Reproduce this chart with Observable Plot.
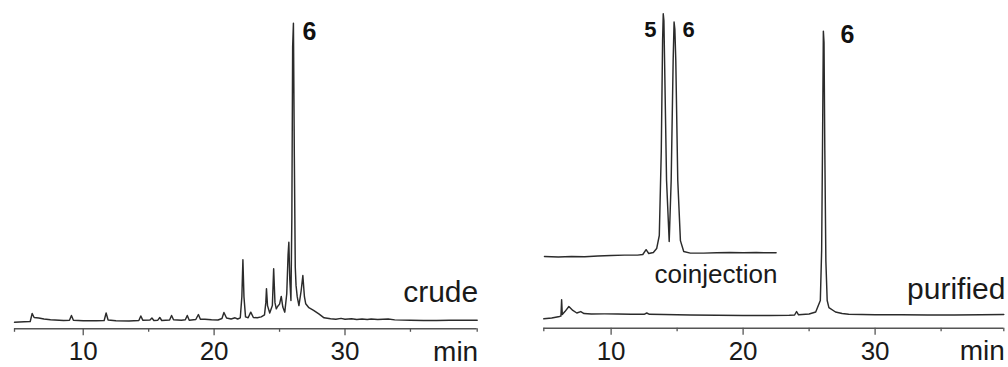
<!DOCTYPE html>
<html><head><meta charset="utf-8">
<script src="https://cdn.jsdelivr.net/npm/d3@7"></script>
<script src="https://cdn.jsdelivr.net/npm/@observablehq/plot@0.6"></script>
<style>
body{margin:0;background:#fff;}
#wrap{display:flex;width:1008px;height:367px;overflow:hidden;}
#wrap svg{overflow:visible;display:block;}
</style></head><body><div id="wrap"></div>
<script>
// ---- data (retention time in min, detector signal in % of main peak) ----
const crudeTime = [4.75,5.5,5.95,6.1,6.25,6.6,7.0,7.5,8.5,8.95,9.1,9.25,10.0,11.0,11.6,11.75,11.9,12.5,13.5,14.25,14.4,14.55,15.1,15.25,15.4,15.7,15.85,16.0,16.6,16.75,16.9,17.5,17.8,17.95,18.1,18.6,18.8,18.95,19.3,19.8,20.3,20.6,20.75,20.95,21.3,21.6,21.8,22.0,22.12,22.2,22.28,22.4,22.6,22.8,23.0,23.3,23.6,23.85,23.95,24.0,24.08,24.25,24.45,24.55,24.65,24.75,24.85,25.0,25.13,25.25,25.4,25.55,25.65,25.71,25.78,25.87,25.94,26.0,26.06,26.13,26.2,26.26,26.35,26.48,26.65,26.78,26.9,27.0,27.24,27.6,28.0,28.4,28.9,29.3,29.7,30.0,30.5,30.9,31.3,31.7,32.0,32.5,33.3,33.8,35,36,37,38,39,40.1];
const crudeSignal = [-0.57,-0.44,-0.34,2.35,1.0,0.84,0.5,0.24,0.0,0.07,1.68,0.07,-0.1,-0.1,0.0,2.5,0.17,-0.1,-0.17,0.0,1.5,0.1,0.17,0.84,0.0,0.1,1.0,0.0,0.17,1.68,0.24,0.07,0.24,1.68,0.1,0.34,2.0,0.4,0.44,0.24,0.17,0.67,2.7,0.84,0.5,0.9,0.5,0.9,8,20.4,8,1.2,0.9,2.8,1.0,0.9,1.2,1.9,6,10.7,5,2.5,5,17.4,6,3.9,4.7,5.5,8.1,4.5,2.8,9,22,26.3,14,6.7,35,92,100,55,18,11.8,8,5.0,10,15.1,8,5.6,4.3,3.4,2.2,0.9,0.57,0.4,0.7,0.4,0.6,0.3,0.5,0.3,0.5,0.3,0.5,0.2,0.1,0.0,0.0,0.07,0.1,0.1];

const purifiedTime = [4.9,5.5,6.1,6.2,6.25,6.3,6.5,6.8,7.1,7.4,7.7,7.95,8.5,9.5,10.5,11.5,12.5,12.7,12.9,14,16,18,20,22,23.5,23.9,24.05,24.2,25,25.5,25.85,25.95,26.02,26.08,26.13,26.19,26.27,26.37,26.5,27,27.5,28,29,30,32,34,36,38,39.75];
const purifiedSignal = [-1.34,-1.06,-0.5,-0.35,5.36,0.18,1.2,3.0,1.6,0.7,1.2,0.5,0.35,0.4,0.35,0.25,0.25,0.7,0.25,0.18,0,-0.1,-0.2,-0.2,-0.1,0,1.23,0.07,0.35,1.06,5.1,22.7,62,100,96,58,19,5.1,2.6,1.06,0.53,0.25,0.18,0.07,0.07,0,0,0.07,0.18];

const coinjTime = [4.95,6,7,8,9,10,11,12,12.4,12.65,12.85,13.2,13.45,13.65,13.8,13.9,13.95,14.0,14.05,14.2,14.4,14.55,14.7,14.77,14.83,14.9,15.05,15.25,15.5,16,17,18,19,20,21,22,22.5];
const coinjSignal = [0,-0.2,0,-0.1,0.2,0.35,0.5,0.5,0.7,2.4,1.06,1.4,2.8,7.4,37,76,85.5,83,69,26.8,5.3,26.8,69,82.6,80,69,26.8,5.6,1.76,1.2,1.2,1.3,1.4,1.3,1.4,1.3,1.3];
const coinjOffset = 20.6;

const majorTicks = [10, 20, 30];
const minorTicks = [15, 25, 35];

const font = "'Liberation Sans', Arial, sans-serif";
const ink = "#2b2b2b";
const axisInk = "#555";

const toRows = (ts, vs) => ts.map((t, i) => ({t, s: vs[i]}));

function panel({width, ml, mr, mt, mb, xd, yd, traces, texts}) {
  return Plot.plot({
    width, height: 367,
    marginLeft: ml, marginRight: mr, marginTop: mt, marginBottom: mb,
    x: {domain: xd},
    y: {domain: yd, axis: null},
    style: {fontFamily: font, background: "white", overflow: "visible"},
    marks: [
      Plot.ruleY([yd[0]], {stroke: axisInk, strokeWidth: 1.4}),
      Plot.axisX({ticks: majorTicks, tickSize: 7, tickPadding: 6, fontSize: 26, stroke: axisInk, strokeWidth: 1.3, fill: "#1a1a1a", label: null, tickFormat: d => String(d)}),
      Plot.axisX({ticks: [xd[0], ...minorTicks, xd[1]], tickSize: 3.5, stroke: axisInk, strokeWidth: 1.3, tickFormat: () => "", label: null}),
      ...traces.map(tr => Plot.line(tr.rows, {x: "t", y: d => d.s + (tr.offset || 0), stroke: ink, strokeWidth: 1.45})),
      ...texts,
      Plot.text(["min"], {frameAnchor: "bottom-right", lineAnchor: "bottom", textAnchor: "end", dx: 1, dy: 32, fontSize: 28, fill: "#1a1a1a"})
    ]
  });
}

const left = panel({
  width: 520, ml: 14, mr: 43.3, mt: 22.7, mb: 38.7,
  xd: [4.75, 40.1], yd: [-2.8, 100],
  traces: [{rows: toRows(crudeTime, crudeSignal)}],
  texts: [
    Plot.text(["6"], {x: 26.76, y: 94.5, textAnchor: "start", lineAnchor: "bottom", fontSize: 25, fontWeight: "bold", fill: "#111"}),
    Plot.text(["crude"], {x: 40.1, y: 6.2, textAnchor: "end", lineAnchor: "bottom", dx: 1, fontSize: 30, fill: "#1a1a1a"})
  ]
});

const right = panel({
  width: 488, ml: 23.3, mr: 4.7, mt: 13.3, mb: 39.3,
  xd: [4.9, 39.75], yd: [-4.65, 106.1],
  traces: [
    {rows: toRows(purifiedTime, purifiedSignal)},
    {rows: toRows(coinjTime, coinjSignal), offset: coinjOffset}
  ],
  texts: [
    Plot.text(["5"], {x: 13.44, y: 98.1, textAnchor: "end", lineAnchor: "bottom", fontSize: 22, fontWeight: "bold", fill: "#111"}),
    Plot.text(["6"], {x: 15.41, y: 98.1, textAnchor: "start", lineAnchor: "bottom", fontSize: 22, fontWeight: "bold", fill: "#111"}),
    Plot.text(["6"], {x: 27.38, y: 95.7, textAnchor: "start", lineAnchor: "bottom", fontSize: 25, fontWeight: "bold", fill: "#111"}),
    Plot.text(["coinjection"], {x: 22.6, y: 11.2, textAnchor: "end", lineAnchor: "bottom", fontSize: 26, fill: "#1a1a1a"}),
    Plot.text(["purified"], {x: 39.75, y: 5.8, textAnchor: "end", lineAnchor: "bottom", dx: 1.7, fontSize: 30, fill: "#1a1a1a"})
  ]
});

document.getElementById("wrap").append(left, right);
</script>
</body></html>
